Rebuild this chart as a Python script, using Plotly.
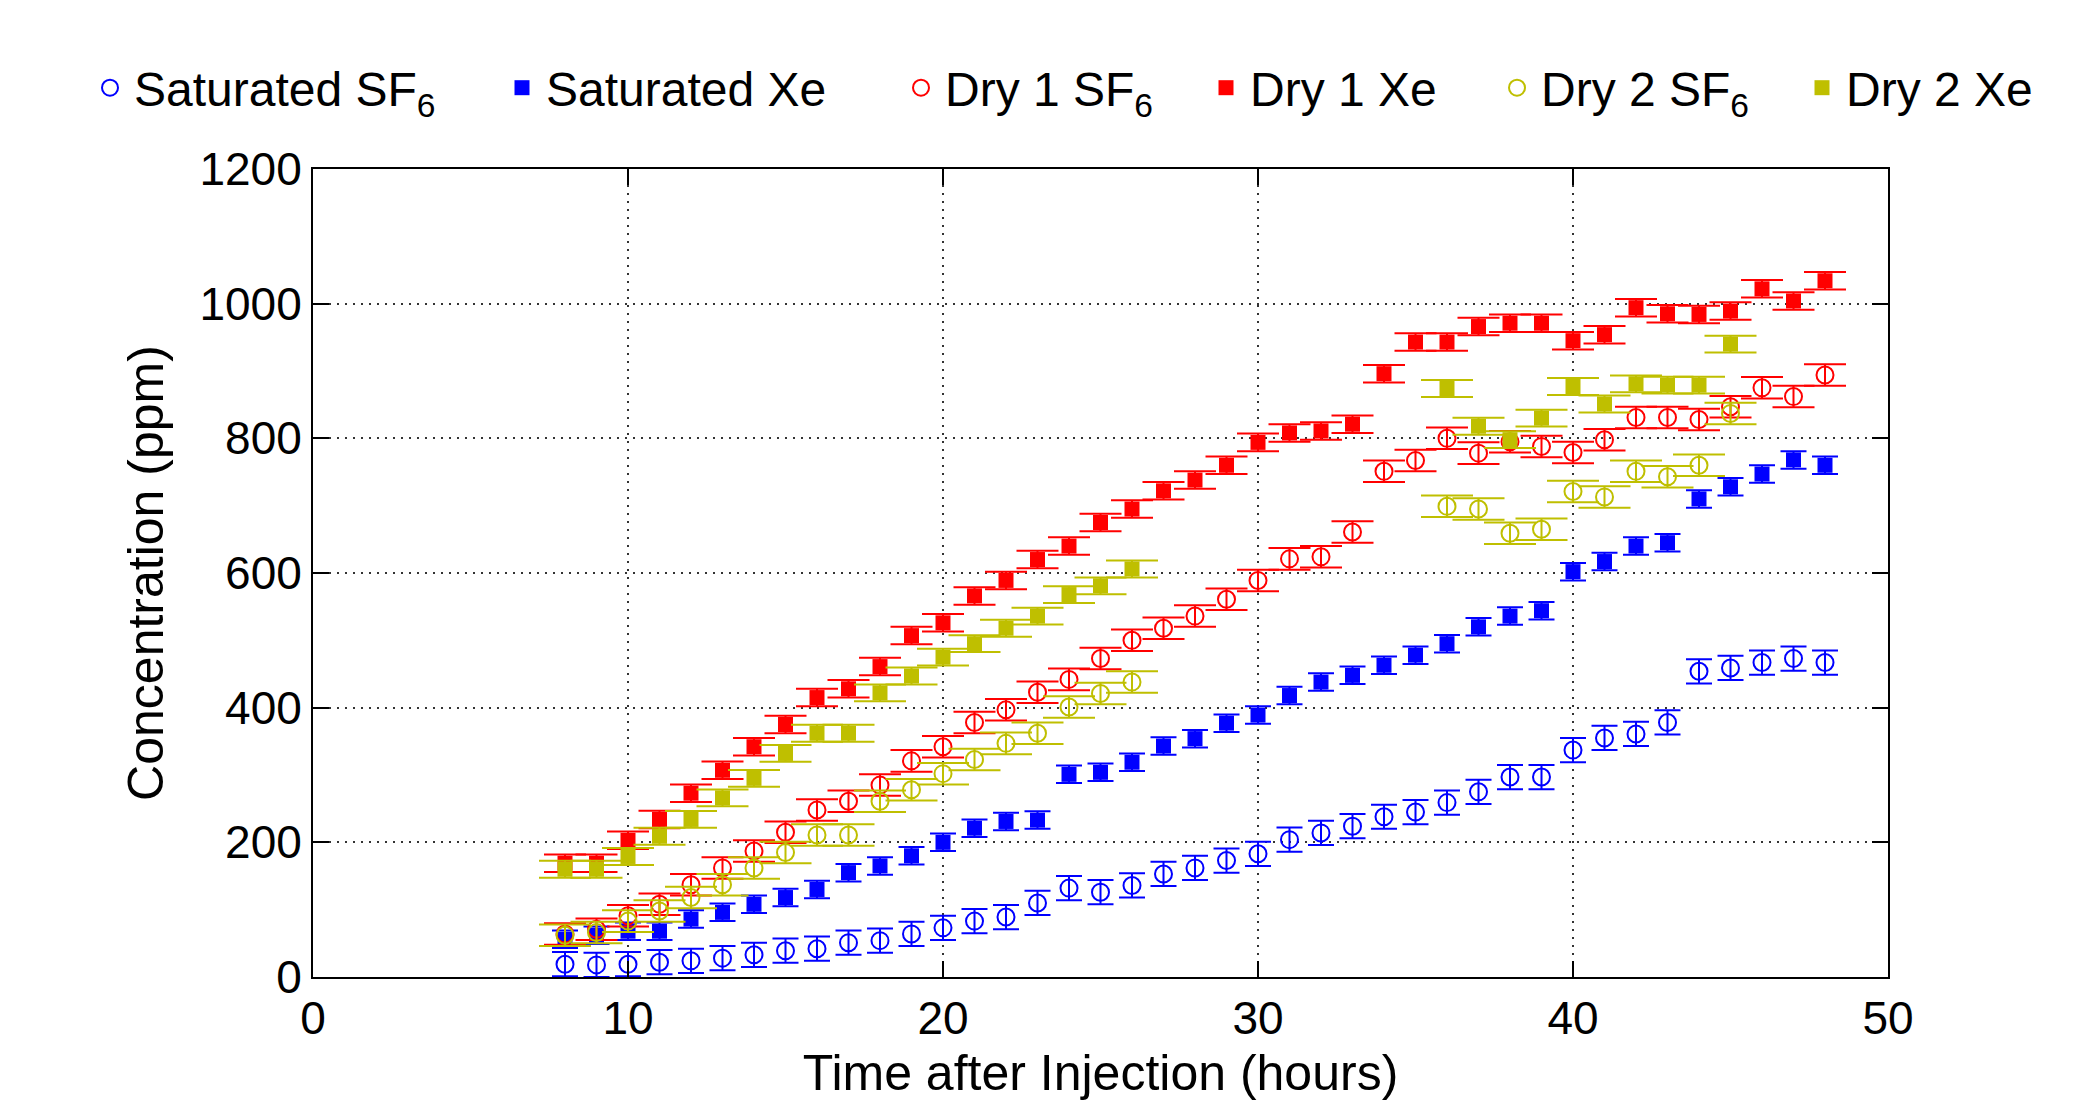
import plotly.graph_objects as go

# ---------------- data ----------------
hours_full = list(range(8, 49))
hours_dry2 = list(range(8, 27)) + list(range(36, 46))

sat_sf6 = [19, 18, 19, 22, 24, 28, 33, 39, 42, 51, 54, 64, 73, 83, 89, 110, 132, 126, 136, 153,
           162, 173, 183, 204, 214, 224, 238, 245, 259, 275, 297, 297, 337, 355, 361, 378, 454,
           459, 467, 473, 467]
sat_xe = [56, 62, 68, 68, 86, 96, 108, 118, 130, 155, 165, 180, 200, 221, 231, 233, 301, 304, 319,
          343, 354, 377, 389, 418, 438, 448, 463, 478, 495, 520, 536, 544, 602, 617, 640, 645, 710,
          728, 747, 768, 760]
dry1_sf6 = [64, 71, 91, 108, 137, 162, 187, 215, 248, 261, 285, 321, 342, 378, 397, 423, 442, 473,
            500, 518, 536, 561, 589, 621, 624, 661, 751, 767, 800, 778, 795, 788, 779, 798, 831,
            831, 828, 847, 875, 862, 894]
dry1_xe = [169, 169, 203, 234, 273, 307, 342, 375, 415, 428, 461, 507, 526, 566, 589, 620, 640, 675,
           695, 722, 738, 760, 794, 808, 811, 821, 896, 943, 943, 966, 971, 971, 945, 954, 994,
           985, 984, 989, 1022, 1004, 1034]
dry2_sf6 = [62, 66, 83, 98, 118, 137, 162, 185, 211, 211, 261, 278, 302, 323, 347, 362, 401, 421,
            438, 699, 695, 659, 665, 721, 713, 751, 743, 760, 837]
dry2_xe = [160, 160, 179, 209, 234, 266, 295, 332, 362, 362, 422, 447, 475, 495, 518, 536, 568, 581,
           606, 874, 818, 798, 830, 877, 851, 881, 879, 879, 940]

err_sat_sf6, err_sat_xe = 18, 13
err_dry1_sf6, err_dry1_xe = 16, 13
err_dry2_sf6, err_dry2_xe = 16, 12.5

names = ["Saturated SF<sub>6</sub>", "Saturated Xe", "Dry 1 SF<sub>6</sub>", "Dry 1 Xe",
         "Dry 2 SF<sub>6</sub>", "Dry 2 Xe"]

x_ticks = [0, 10, 20, 30, 40, 50]
y_ticks = [0, 200, 400, 600, 800, 1000, 1200]

# ---------------- style ----------------
BLUE, RED, YEL = "#0000FF", "#FF0000", "#BFBF00"
FONT = "Liberation Sans, Arial, Helvetica, sans-serif"
W, H = 2098, 1112

series = [
    (hours_full, sat_sf6, err_sat_sf6, BLUE, "circle-open", 13),
    (hours_full, sat_xe, err_sat_xe, BLUE, "square", 13),
    (hours_full, dry1_sf6, err_dry1_sf6, RED, "circle-open", 21),
    (hours_full, dry1_xe, err_dry1_xe, RED, "square", 21),
    (hours_dry2, dry2_sf6, err_dry2_sf6, YEL, "circle-open", 26),
    (hours_dry2, dry2_xe, err_dry2_xe, YEL, "square", 26),
]

legend_px = [110, 522, 921, 1226, 1517, 1822]

fig = go.Figure()
for i, ((xs, ys, e, col, sym, capw), nm) in enumerate(zip(series, names)):
    is_open = sym.endswith("open")
    fig.add_trace(go.Scatter(
        x=xs, y=ys, mode="markers", name=nm, showlegend=True,
        legend="legend" if i == 0 else f"legend{i+1}",
        marker=dict(symbol=sym, size=17 if is_open else 15, color=col,
                    line=dict(color=col, width=2 if is_open else 0)),
        error_y=dict(type="constant", value=e, color=col, thickness=2, width=capw),
    ))

layout_legends = {}
for i, px in enumerate(legend_px):
    key = "legend" if i == 0 else f"legend{i+1}"
    layout_legends[key] = dict(
        orientation="h", xref="container", yref="container",
        x=(px - 24) / W, xanchor="left", y=1 - 88 / H, yanchor="middle",
        font=dict(family=FONT, size=48, color="black"), itemwidth=38,
        bgcolor="rgba(0,0,0,0)", borderwidth=0, visible=True,
    )

axis_common = dict(
    showline=True, linecolor="black", linewidth=2, mirror="ticks",
    ticks="inside", ticklen=16, tickwidth=2, tickcolor="black",
    showgrid=True, gridcolor="#333333", gridwidth=2, griddash="2px,6px",
    zeroline=False,
    tickfont=dict(family=FONT, size=46, color="black"),
)

fig.update_layout(
    width=W, height=H, showlegend=True,
    margin=dict(l=313, r=210, t=169, b=135, autoexpand=False),
    paper_bgcolor="white", plot_bgcolor="white",
    font=dict(family=FONT, color="black"),
    xaxis=dict(range=[0, 50], tickvals=x_ticks,
               title=dict(text="Time after Injection (hours)", standoff=12,
                          font=dict(family=FONT, size=50, color="black")),
               **axis_common),
    yaxis=dict(range=[0, 1200], tickvals=y_ticks,
               title=dict(text="Concentration (ppm)", standoff=20,
                          font=dict(family=FONT, size=50, color="black")),
               **axis_common),
    **layout_legends,
)

fig.write_html("out.html")
